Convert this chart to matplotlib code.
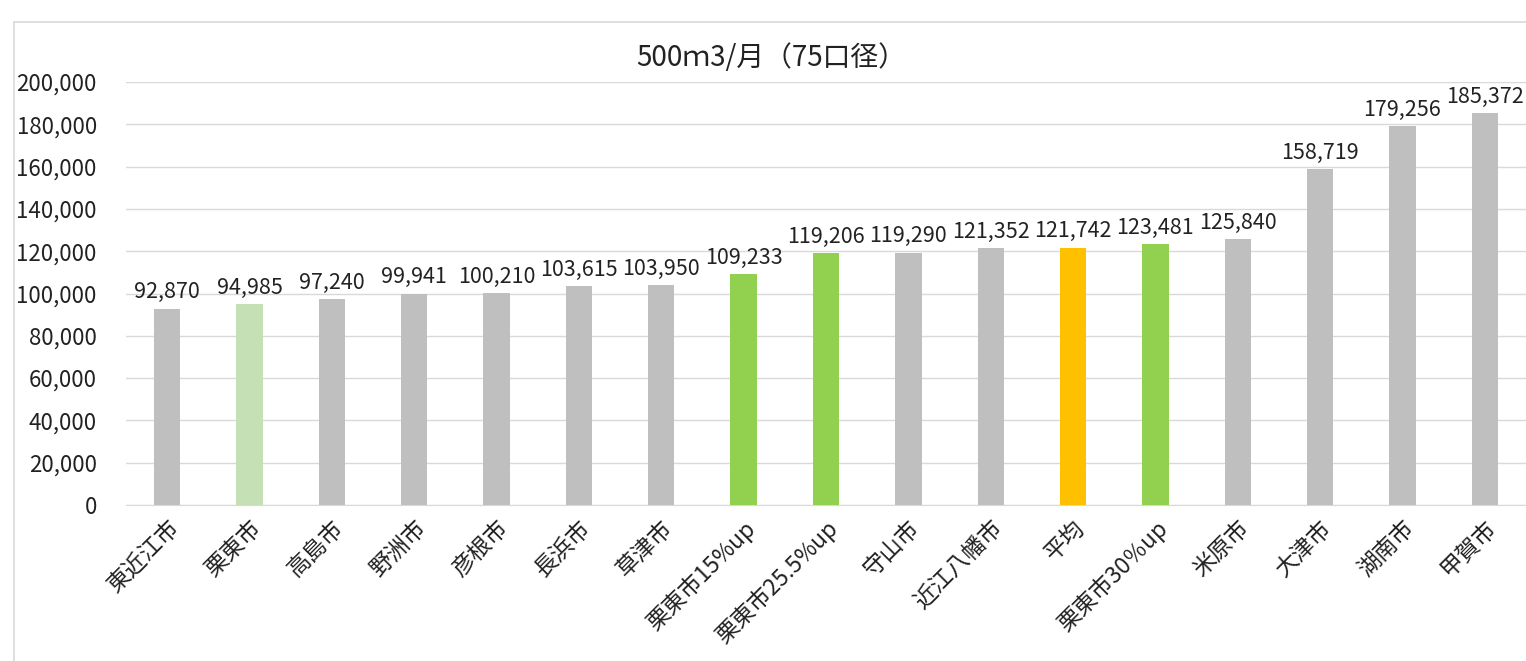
import matplotlib
matplotlib.use("Agg")
import matplotlib.pyplot as plt
import matplotlib.transforms as mtransforms
from matplotlib.patches import Rectangle

plt.rcParams['font.family'] = ['Noto Sans CJK JP', 'DejaVu Sans']

cities = ["東近江市", "栗東市", "高島市", "野洲市", "彦根市", "長浜市", "草津市",
          "栗東市15%up", "栗東市25.5%up", "守山市", "近江八幡市", "平均",
          "栗東市30％up", "米原市", "大津市", "湖南市", "甲賀市"]
values = [92870, 94985, 97240, 99941, 100210, 103615, 103950,
          109233, 119206, 119290, 121352, 121742,
          123481, 125840, 158719, 179256, 185372]
colors = ["#BFBFBF", "#C5E0B4", "#BFBFBF", "#BFBFBF", "#BFBFBF", "#BFBFBF", "#BFBFBF",
          "#92D050", "#92D050", "#BFBFBF", "#BFBFBF", "#FFC000",
          "#92D050", "#BFBFBF", "#BFBFBF", "#BFBFBF", "#BFBFBF"]
yticks = [0, 20000, 40000, 60000, 80000, 100000, 120000, 140000, 160000, 180000, 200000]

fig = plt.figure(figsize=(15.26, 6.61), dpi=100)
fig.patches.append(Rectangle((14 / 1526, -0.1), 1.2, 1 - 22 / 661 + 0.1,
                             transform=fig.transFigure, fill=False,
                             edgecolor="#D9D9D9", linewidth=1.2))

ax = fig.add_axes([126 / 1526, 1 - 505 / 661, 1400 / 1526, (505 - 82) / 661])
x = range(len(cities))
bars = ax.bar(x, values, width=0.32, color=colors, zorder=3)
for i, v in enumerate(values):
    ax.text(i, v + 2500, f"{v:,}", ha="center", va="bottom", fontsize=15.5, color="#222222")

ax.set_xlim(-0.5, len(cities) - 0.5)
ax.set_ylim(0, 200000)
ax.set_yticks(yticks)
ax.set_yticklabels([f"{t:,}" for t in yticks], fontsize=16, color="#222222")
ax.set_xticks(list(x))
ax.set_xticklabels(cities, rotation=45, ha="right", rotation_mode="anchor",
                   fontsize=16.5, color="#222222")
# nudge the rotated labels a little to the left, like the original
shift = mtransforms.ScaledTranslation(-8 / 100, 0, fig.dpi_scale_trans)
for lab in ax.get_xticklabels():
    lab.set_transform(lab.get_transform() + shift)
ax.tick_params(axis="both", length=0)
ax.tick_params(axis="x", pad=8)
ax.tick_params(axis="y", pad=21)
ax.grid(axis="y", color="#D9D9D9", linewidth=1, zorder=0)
for s in ["top", "right", "left"]:
    ax.spines[s].set_visible(False)
ax.spines["bottom"].set_color("#D9D9D9")

fig.text(771 / 1526, 1 - 58 / 661, "500ｍ3/月（75口径）",
         ha="center", va="center", fontsize=20, color="#222222")

fig.savefig("out.png", dpi=100)
